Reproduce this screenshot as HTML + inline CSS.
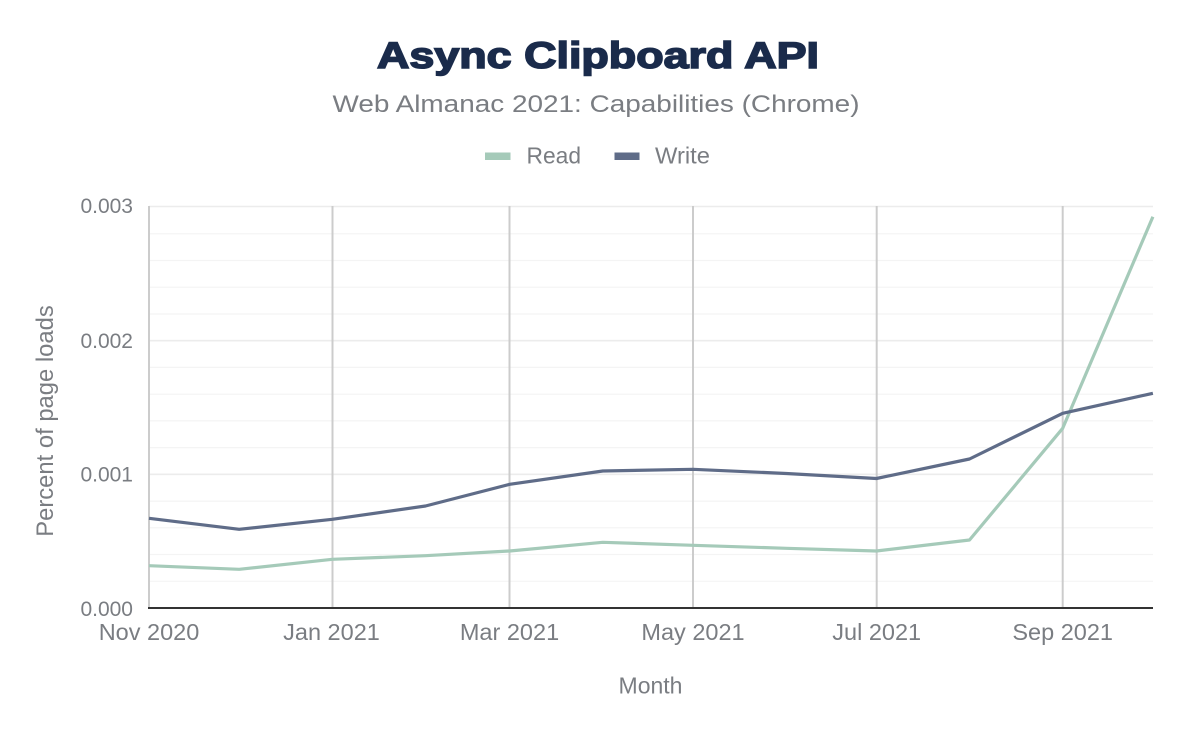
<!DOCTYPE html>
<html>
<head>
<meta charset="utf-8">
<style>
html,body{margin:0;padding:0;background:#fff;}
svg{display:block;}
text{font-family:"Liberation Sans",Arial,sans-serif;}
</style>
</head>
<body>
<svg width="1200" height="742" viewBox="0 0 1200 742" xmlns="http://www.w3.org/2000/svg">
<rect width="1200" height="742" fill="#fff"/>
<!-- Title -->
<text x="598" y="68" text-anchor="middle" font-size="37" font-weight="bold" fill="#1a2b4b" stroke="#1a2b4b" stroke-width="1.6" textLength="442" lengthAdjust="spacingAndGlyphs">Async Clipboard API</text>
<text x="596" y="112" text-anchor="middle" font-size="24" fill="#7a7d82" textLength="527" lengthAdjust="spacingAndGlyphs">Web Almanac 2021: Capabilities (Chrome)</text>
<!-- Legend -->
<rect x="485" y="152.5" width="25.5" height="7.5" fill="#a5cab9"/>
<text x="526.5" y="163.5" font-size="23" fill="#7a7d82" textLength="54.5" lengthAdjust="spacingAndGlyphs">Read</text>
<rect x="614.5" y="152.5" width="25" height="7.5" fill="#5f6c88"/>
<text x="655" y="163.5" font-size="23" fill="#7a7d82" textLength="55" lengthAdjust="spacingAndGlyphs">Write</text>
<!-- minor gridlines -->
<g stroke="#f4f4f4" stroke-width="1.2">
<line x1="149" x2="1153" y1="581.3" y2="581.3"/>
<line x1="149" x2="1153" y1="554.5" y2="554.5"/>
<line x1="149" x2="1153" y1="527.8" y2="527.8"/>
<line x1="149" x2="1153" y1="501.1" y2="501.1"/>
<line x1="149" x2="1153" y1="447.6" y2="447.6"/>
<line x1="149" x2="1153" y1="420.9" y2="420.9"/>
<line x1="149" x2="1153" y1="394.2" y2="394.2"/>
<line x1="149" x2="1153" y1="367.4" y2="367.4"/>
<line x1="149" x2="1153" y1="314" y2="314"/>
<line x1="149" x2="1153" y1="287.2" y2="287.2"/>
<line x1="149" x2="1153" y1="260.5" y2="260.5"/>
<line x1="149" x2="1153" y1="233.8" y2="233.8"/>
</g>
<!-- major gridlines -->
<g stroke="#ececec" stroke-width="1.6">
<line x1="149" x2="1153" y1="474.3" y2="474.3"/>
<line x1="149" x2="1153" y1="340.7" y2="340.7"/>
<line x1="149" x2="1153" y1="206.5" y2="206.5"/>
</g>
<!-- vertical gridlines -->
<g stroke="#cccccc" stroke-width="2">
<line x1="149" x2="149" y1="206" y2="608"/>
<line x1="332.5" x2="332.5" y1="206" y2="608"/>
<line x1="509.5" x2="509.5" y1="206" y2="608"/>
<line x1="693" x2="693" y1="206" y2="608"/>
<line x1="876.7" x2="876.7" y1="206" y2="608"/>
<line x1="1062.7" x2="1062.7" y1="206" y2="608"/>
</g>
<!-- axis line -->
<line x1="148" x2="1153" y1="608" y2="608" stroke="#333" stroke-width="2"/>
<!-- y tick labels -->
<g font-size="21" fill="#7a7d82" text-anchor="end">
<text x="133" y="213">0.003</text>
<text x="133" y="348">0.002</text>
<text x="133" y="481.5">0.001</text>
<text x="133" y="616">0.000</text>
</g>
<!-- x tick labels -->
<g font-size="23.5" fill="#7a7d82" text-anchor="middle">
<text x="149" y="640">Nov 2020</text>
<text x="331.5" y="640">Jan 2021</text>
<text x="509.5" y="640">Mar 2021</text>
<text x="693" y="640">May 2021</text>
<text x="876.7" y="640">Jul 2021</text>
<text x="1062.7" y="640">Sep 2021</text>
</g>
<!-- axis titles -->
<text x="650.5" y="693.3" text-anchor="middle" font-size="23" fill="#7a7d82">Month</text>
<text transform="translate(53,421) rotate(-90)" text-anchor="middle" font-size="23.8" fill="#7a7d82">Percent of page loads</text>
<!-- series -->
<polyline fill="none" stroke="#a5cab9" stroke-width="3.2" stroke-linejoin="round" points="149,565.7 239.2,569.3 332.3,559.3 425.5,555.7 509.7,551 602.8,542.3 693,545.3 786.2,548.3 876.4,551 969.5,540 1062.7,428.3 1152.9,216.7"/>
<polyline fill="none" stroke="#5f6c88" stroke-width="3.2" stroke-linejoin="round" points="149,518.3 239.2,529.3 332.3,519.3 425.5,506 509.7,484.3 602.8,471 693,469.3 786.2,473.5 876.4,478.5 969.5,459 1062.7,413.3 1152.9,393.3"/>
</svg>
</body>
</html>
